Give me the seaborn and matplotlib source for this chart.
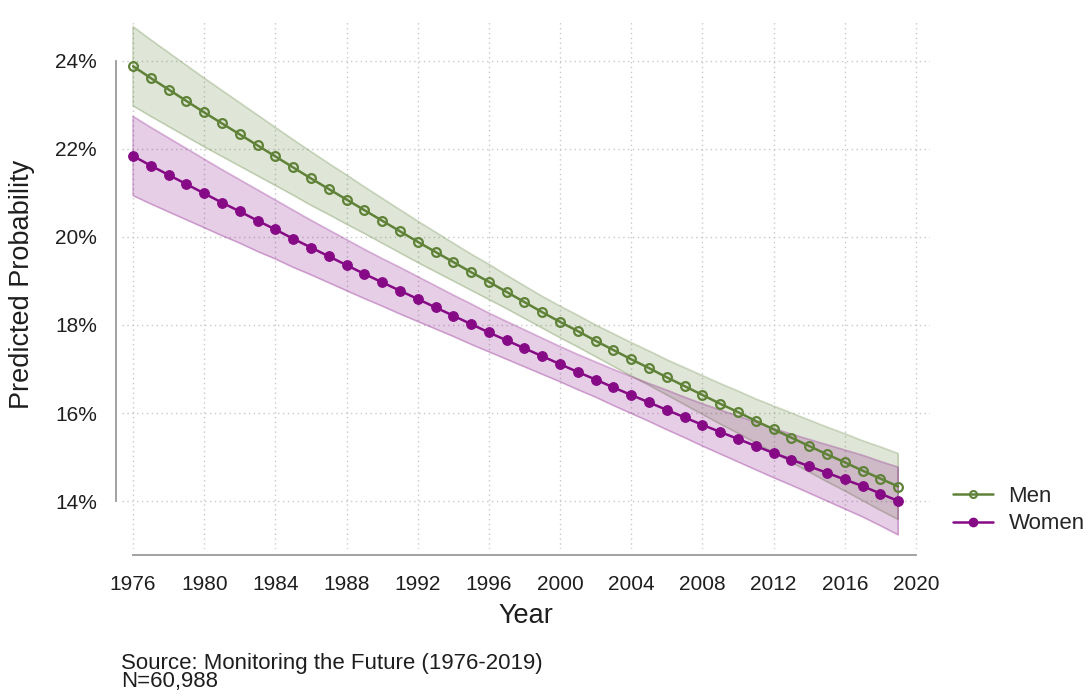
import numpy as np
import pandas as pd
import matplotlib
matplotlib.use("Agg")
import matplotlib.pyplot as plt
from matplotlib.lines import Line2D
import seaborn as sns

# ---- data (in %) ----
years = list(range(1976, 2020))

men = [23.88, 23.61, 23.35, 23.09, 22.83, 22.58, 22.33, 22.08, 21.83, 21.58,
       21.33, 21.09, 20.85, 20.61, 20.37, 20.13, 19.89, 19.66, 19.43, 19.20,
       18.98, 18.75, 18.52, 18.29, 18.07, 17.86, 17.64, 17.43, 17.22, 17.02,
       16.81, 16.61, 16.41, 16.21, 16.02, 15.82, 15.63, 15.44, 15.25, 15.06,
       14.88, 14.69, 14.51, 14.33]
women = [21.84, 21.62, 21.41, 21.20, 20.99, 20.78, 20.58, 20.37, 20.17, 19.96,
         19.76, 19.56, 19.36, 19.16, 18.97, 18.78, 18.59, 18.40, 18.21, 18.02,
         17.83, 17.65, 17.47, 17.29, 17.11, 16.93, 16.76, 16.58, 16.41, 16.24,
         16.07, 15.90, 15.73, 15.57, 15.41, 15.25, 15.09, 14.94, 14.79, 14.64,
         14.49, 14.34, 14.17, 14.00]

# half-width of the 95% CI band
men_ci = [0.90, 0.87, 0.84, 0.81, 0.78, 0.75, 0.72, 0.69, 0.66, 0.63,
          0.61, 0.58, 0.56, 0.53, 0.51, 0.49, 0.47, 0.45, 0.43, 0.41,
          0.40, 0.38, 0.37, 0.36, 0.36, 0.36, 0.36, 0.37, 0.38, 0.39,
          0.40, 0.42, 0.44, 0.46, 0.48, 0.50, 0.53, 0.56, 0.59, 0.62,
          0.65, 0.68, 0.72, 0.75]
women_ci = [0.90, 0.87, 0.84, 0.81, 0.78, 0.75, 0.72, 0.70, 0.67, 0.65,
            0.62, 0.60, 0.58, 0.56, 0.54, 0.53, 0.51, 0.49, 0.47, 0.46,
            0.44, 0.43, 0.42, 0.41, 0.40, 0.40, 0.40, 0.41, 0.42, 0.43,
            0.45, 0.46, 0.48, 0.50, 0.52, 0.54, 0.56, 0.58, 0.61, 0.64,
            0.67, 0.70, 0.73, 0.77]

x_ticks = list(range(1976, 2021, 4))
y_ticks = [14, 16, 18, 20, 22, 24]

MEN_COL = "#5f8238"
WOMEN_COL = "#860a86"
TXT = "#1e1e1e"

df = pd.DataFrame({
    "year": years * 2,
    "prob": men + women,
    "ci": men_ci + women_ci,
    "sex": ["Men"] * len(years) + ["Women"] * len(years),
})
df["lo"] = df["prob"] - df["ci"]
df["hi"] = df["prob"] + df["ci"]

sns.set_style("white")
plt.rcParams["font.family"] = ["Liberation Sans", "DejaVu Sans"]

fig = plt.figure(figsize=(10.89, 6.98), dpi=100)
ax = fig.add_axes([122 / 1089, (698 - 549) / 698, (930 - 122) / 1089, (549 - 20) / 698])

# CI bands
for sex, col in [("Men", MEN_COL), ("Women", WOMEN_COL)]:
    d = df[df["sex"] == sex]
    ax.fill_between(d["year"], d["lo"], d["hi"], color=col, alpha=0.2,
                    linewidth=0, zorder=1)
    ax.fill_between(d["year"], d["lo"], d["hi"], facecolor="none",
                    edgecolor=col, alpha=0.3, linewidth=1.2, zorder=1)

# lines with markers
sns.lineplot(data=df[df["sex"] == "Men"], x="year", y="prob", ax=ax,
             color=MEN_COL, linewidth=1.8, marker="o", markersize=6.3,
             markerfacecolor="none", markeredgecolor=MEN_COL,
             markeredgewidth=1.6, zorder=3, legend=False)
sns.lineplot(data=df[df["sex"] == "Women"], x="year", y="prob", ax=ax,
             color=WOMEN_COL, linewidth=1.8, marker="o", markersize=7,
             markerfacecolor=WOMEN_COL, markeredgecolor=WOMEN_COL,
             zorder=3, legend=False)

# axes limits (Stata-like plot region)
ax.set_xlim(1975.38, 2020.79)
ax.set_ylim(12.91, 24.93)

ax.set_xticks(x_ticks)
ax.set_yticks(y_ticks)
ax.set_yticklabels([f"{v}%" for v in y_ticks])

ax.grid(True, linestyle=(0, (1, 2.5)), color="#c8c8c8", linewidth=1.0)
ax.set_axisbelow(True)

for s in ["top", "right"]:
    ax.spines[s].set_visible(False)
ax.spines["left"].set_position(("outward", 4.5))
ax.spines["bottom"].set_position(("outward", 4.5))
ax.spines["left"].set_bounds(14, 24)
ax.spines["bottom"].set_bounds(1976, 2020)
for s in ["left", "bottom"]:
    ax.spines[s].set_color("#9a9a9a")
    ax.spines[s].set_linewidth(1.3)

ax.tick_params(axis="both", direction="out", length=6.5, width=1.2,
               color="#9a9a9a", labelsize=15, labelcolor=TXT)
ax.tick_params(axis="x", pad=8)
ax.tick_params(axis="y", pad=7)

ax.set_xlabel("Year", fontsize=19.5, color=TXT, labelpad=6)
ax.set_ylabel("Predicted Probability", fontsize=19.5, color=TXT, labelpad=14.5)

handles = [
    Line2D([], [], color=MEN_COL, linewidth=1.8, marker="o", markersize=5,
           markerfacecolor="none", markeredgewidth=1.5),
    Line2D([], [], color=WOMEN_COL, linewidth=1.8, marker="o", markersize=6),
]
fig.legend(handles, ["Men", "Women"], loc="center left",
           bbox_to_anchor=(953 / 1089, 1 - 510 / 698), frameon=False,
           fontsize=16, handlelength=1.8, labelspacing=0.3, handletextpad=0.7,
           borderpad=0, borderaxespad=0)

fig.text(121 / 1089, 1 - 687 / 698,
         "Source: Monitoring the Future (1976-2019)\nN=60,988",
         fontsize=16, color=TXT, va="baseline", linespacing=0.82)

fig.savefig("out.png", dpi=100)
